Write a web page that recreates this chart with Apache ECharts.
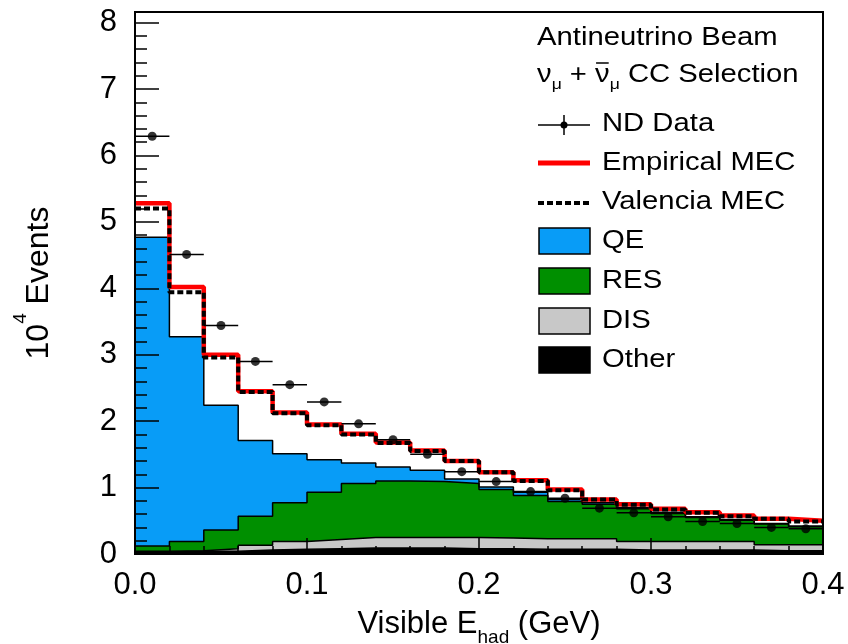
<!DOCTYPE html>
<html><head><meta charset="utf-8">
<script src="https://cdn.jsdelivr.net/npm/echarts@6/dist/echarts.min.js"></script>
<style>html,body{margin:0;padding:0;background:#fff}#c{width:848px;height:644px}</style>
</head><body><div id="c"></div>
<script>
// Bin edges (GeV)
const binEdges = [0.00,0.02,0.04,0.06,0.08,0.10,0.12,0.14,0.16,0.18,0.20,0.22,0.24,0.26,0.28,0.30,0.32,0.34,0.36,0.38,0.40];
// Stacked (cumulative) tops, units of 10^4 events
const otherTop = [0.03,0.04,0.04,0.06,0.07,0.08,0.09,0.09,0.09,0.08,0.08,0.07,0.07,0.07,0.06,0.06,0.06,0.06,0.05,0.05];
const disTop   = [0.04,0.05,0.08,0.13,0.19,0.22,0.25,0.25,0.25,0.25,0.24,0.23,0.23,0.23,0.19,0.19,0.19,0.19,0.14,0.14];
const resTop   = [0.12,0.19,0.36,0.57,0.77,0.93,1.06,1.10,1.09,1.06,0.97,0.88,0.79,0.75,0.68,0.61,0.55,0.51,0.45,0.41];
const qeTop    = [4.77,3.27,2.24,1.71,1.51,1.42,1.37,1.31,1.26,1.13,1.01,0.93,0.82,0.77,0.70,0.63,0.56,0.52,0.46,0.42];
const empiricalMEC = [5.28,4.02,3.00,2.45,2.13,1.95,1.81,1.68,1.56,1.40,1.23,1.11,0.97,0.82,0.75,0.68,0.63,0.58,0.53,0.50];
const valenciaMEC  = [5.20,3.94,2.96,2.44,2.12,1.94,1.80,1.67,1.55,1.40,1.23,1.10,0.96,0.82,0.74,0.67,0.62,0.57,0.53,0.49];
const ndData       = [6.29,4.51,3.44,2.90,2.55,2.29,1.96,1.72,1.50,1.24,1.09,0.94,0.84,0.69,0.62,0.56,0.49,0.46,0.40,0.38];
const legendItems = ['ND Data','Empirical MEC','Valencia MEC','QE','RES','DIS','Other'];

const FONT = 'Liberation Sans, Arial, Helvetica, sans-serif';
const COLORS = {QE:'#089cf7', RES:'#008f00', DIS:'#c8c8c8', Other:'#000000'};
const n = binEdges.length - 1;
function stepData(vals){
  const d = vals.map((v,i)=>[binEdges[i], v]);
  d.push([binEdges[n], vals[n-1]]);
  return d;
}
function histSeries(name, vals, color){
  return {
    name, type:'line', step:'end', data: stepData(vals), showSymbol:false, silent:true,
    lineStyle:{color:'#000', width:1.5}, areaStyle:{color:color, opacity:1}, z:2
  };
}
// text measurement for the overline on the anti-neutrino symbol
const ctx = document.createElement('canvas').getContext('2d');
function tw(t, size){ ctx.font = size + 'px "Liberation Sans"'; return ctx.measureText(t).width; }

const chart = echarts.init(document.getElementById('c'), null, {renderer:'canvas'});
const SX = 1.17;              // horizontal stretch of the legend lettering
const LFS = 25, SFS = 15;     // legend font size, subscript font size
const legendX = 538, textX = 602, textX0 = 537;
const rows = [124,163,202,241,281,321,360];
const graphics = [
  {type:'text', x:textX0, y:38, scaleX:SX, style:{text:'Antineutrino Beam', fontSize:LFS, fontFamily:FONT, fill:'#000', verticalAlign:'middle', align:'left'}},
  {type:'text', x:textX0, y:58, scaleX:SX, style:{
    text:'{g|ν}{s|μ}{g| + ν}{s|μ}{g| CC Selection}',
    fontFamily:FONT, fill:'#000', verticalAlign:'top', align:'left',
    rich:{g:{fontSize:LFS, fontFamily:FONT, lineHeight:30, verticalAlign:'bottom'}, s:{fontSize:SFS, fontFamily:FONT, lineHeight:30, verticalAlign:'bottom', padding:[0,0,-4,0]}}
  }},
  // ND Data icon
  {type:'line', shape:{x1:legendX, y1:rows[0]+1, x2:legendX+52, y2:rows[0]+1}, style:{stroke:'#000', lineWidth:1.5}},
  {type:'line', shape:{x1:legendX+26, y1:rows[0]-9, x2:legendX+26, y2:rows[0]+11}, style:{stroke:'#000', lineWidth:1.5}},
  {type:'circle', shape:{cx:legendX+26, cy:rows[0]+1, r:3.5}, style:{fill:'#000'}},
  {type:'line', shape:{x1:legendX, y1:rows[1], x2:legendX+52, y2:rows[1]}, style:{stroke:'#ff0000', lineWidth:5}},
  {type:'line', shape:{x1:legendX, y1:rows[2]+1, x2:legendX+52, y2:rows[2]+1}, style:{stroke:'#000', lineWidth:4, lineDash:[6,3]}},
];
// overline over the second nu
const ovStart = textX0 + SX*(tw('ν',LFS) + tw('μ',SFS) + tw(' + ',LFS));
const ovEnd = ovStart + SX*tw('ν',LFS);
graphics.push({type:'line', shape:{x1:ovStart+1, y1:63, x2:ovEnd-1, y2:63}, style:{stroke:'#000', lineWidth:1.5}});

legendItems.forEach((t,i)=>{
  graphics.push({type:'text', x:textX, y:rows[i], scaleX:SX, style:{text:t, fontSize:LFS, fontFamily:FONT, fill:'#000', verticalAlign:'middle', align:'left'}});
  if (COLORS[t]) graphics.push({type:'rect', shape:{x:legendX+1, y:rows[i]-13, width:51, height:26}, style:{fill:COLORS[t], stroke:'#000', lineWidth:1.5}});
});

chart.setOption({
  animation:false,
  backgroundColor:'#fff',
  grid:{left:135, right:25, top:12, bottom:90, show:true, borderColor:'#000', borderWidth:2, backgroundColor:'transparent', z:10, containLabel:false, outerBoundsMode:'none'},
  xAxis:{
    type:'value', min:0, max:0.4, interval:0.1, z:10,
    name:'Visible E{sub|had} (GeV)', nameLocation:'middle', nameGap:55,
    nameTextStyle:{fontSize:31, fontFamily:FONT, color:'#000', rich:{sub:{fontSize:19, fontFamily:FONT, verticalAlign:'bottom', padding:[0,0,-7,0]}}},
    axisLine:{show:true, onZero:false, lineStyle:{color:'#000', width:2}},
    axisTick:{inside:true, length:16, lineStyle:{color:'#000', width:1.5}},
    minorTick:{show:true, splitNumber:5, length:8, lineStyle:{color:'#000', width:1.5}},
    splitLine:{show:false},
    axisLabel:{fontSize:31, fontFamily:FONT, color:'#000', margin:16, formatter:v=>v.toFixed(1)}
  },
  yAxis:{
    type:'value', min:0, max:8.16, interval:1, z:10,
    name:'10{sup|4} Events', nameLocation:'middle', nameGap:80, nameRotate:90,
    nameTextStyle:{fontSize:32, fontFamily:FONT, color:'#000', rich:{sup:{fontSize:19, fontFamily:FONT, verticalAlign:'top', padding:[-12,0,0,0]}}},
    axisLine:{show:true, lineStyle:{color:'#000', width:2}},
    axisTick:{inside:true, length:24, lineStyle:{color:'#000', width:1.5}},
    minorTick:{show:true, splitNumber:5, length:12, lineStyle:{color:'#000', width:1.5}},
    splitLine:{show:false},
    axisLabel:{fontSize:31, fontFamily:FONT, color:'#000', margin:18, formatter:v=> (Math.abs(v-Math.round(v))<1e-6 ? String(Math.round(v)) : '')}
  },
  graphic: graphics,
  series:[
    histSeries('QE', qeTop, COLORS.QE),
    histSeries('RES', resTop, COLORS.RES),
    histSeries('DIS', disTop, COLORS.DIS),
    histSeries('Other', otherTop, COLORS.Other),
    {name:'Empirical MEC', type:'line', step:'end', data:stepData(empiricalMEC), showSymbol:false, silent:true, lineStyle:{color:'#ff0000', width:4.5}, z:3},
    {name:'Valencia MEC', type:'line', step:'end', data:stepData(valenciaMEC), showSymbol:false, silent:true, lineStyle:{color:'#000', width:4, type:[6,3]}, z:4},
    {name:'ND Data bars', type:'custom', silent:true, z:5,
      data: ndData.map((v,i)=>[binEdges[i], binEdges[i+1], v]),
      encode:{x:[0,1], y:2},
      renderItem:(params, api)=>{
        const a = api.coord([api.value(0), api.value(2)]);
        const b = api.coord([api.value(1), api.value(2)]);
        return {type:'line', shape:{x1:a[0], y1:a[1], x2:b[0], y2:b[1]}, style:{stroke:'#000', lineWidth:1.5}};
      }},
    {name:'ND Data', type:'scatter', silent:true, z:6, symbol:'circle', symbolSize:9, itemStyle:{color:'#000'},
      data: ndData.map((v,i)=>[(binEdges[i]+binEdges[i+1])/2, v])}
  ]
});
</script></body></html>
